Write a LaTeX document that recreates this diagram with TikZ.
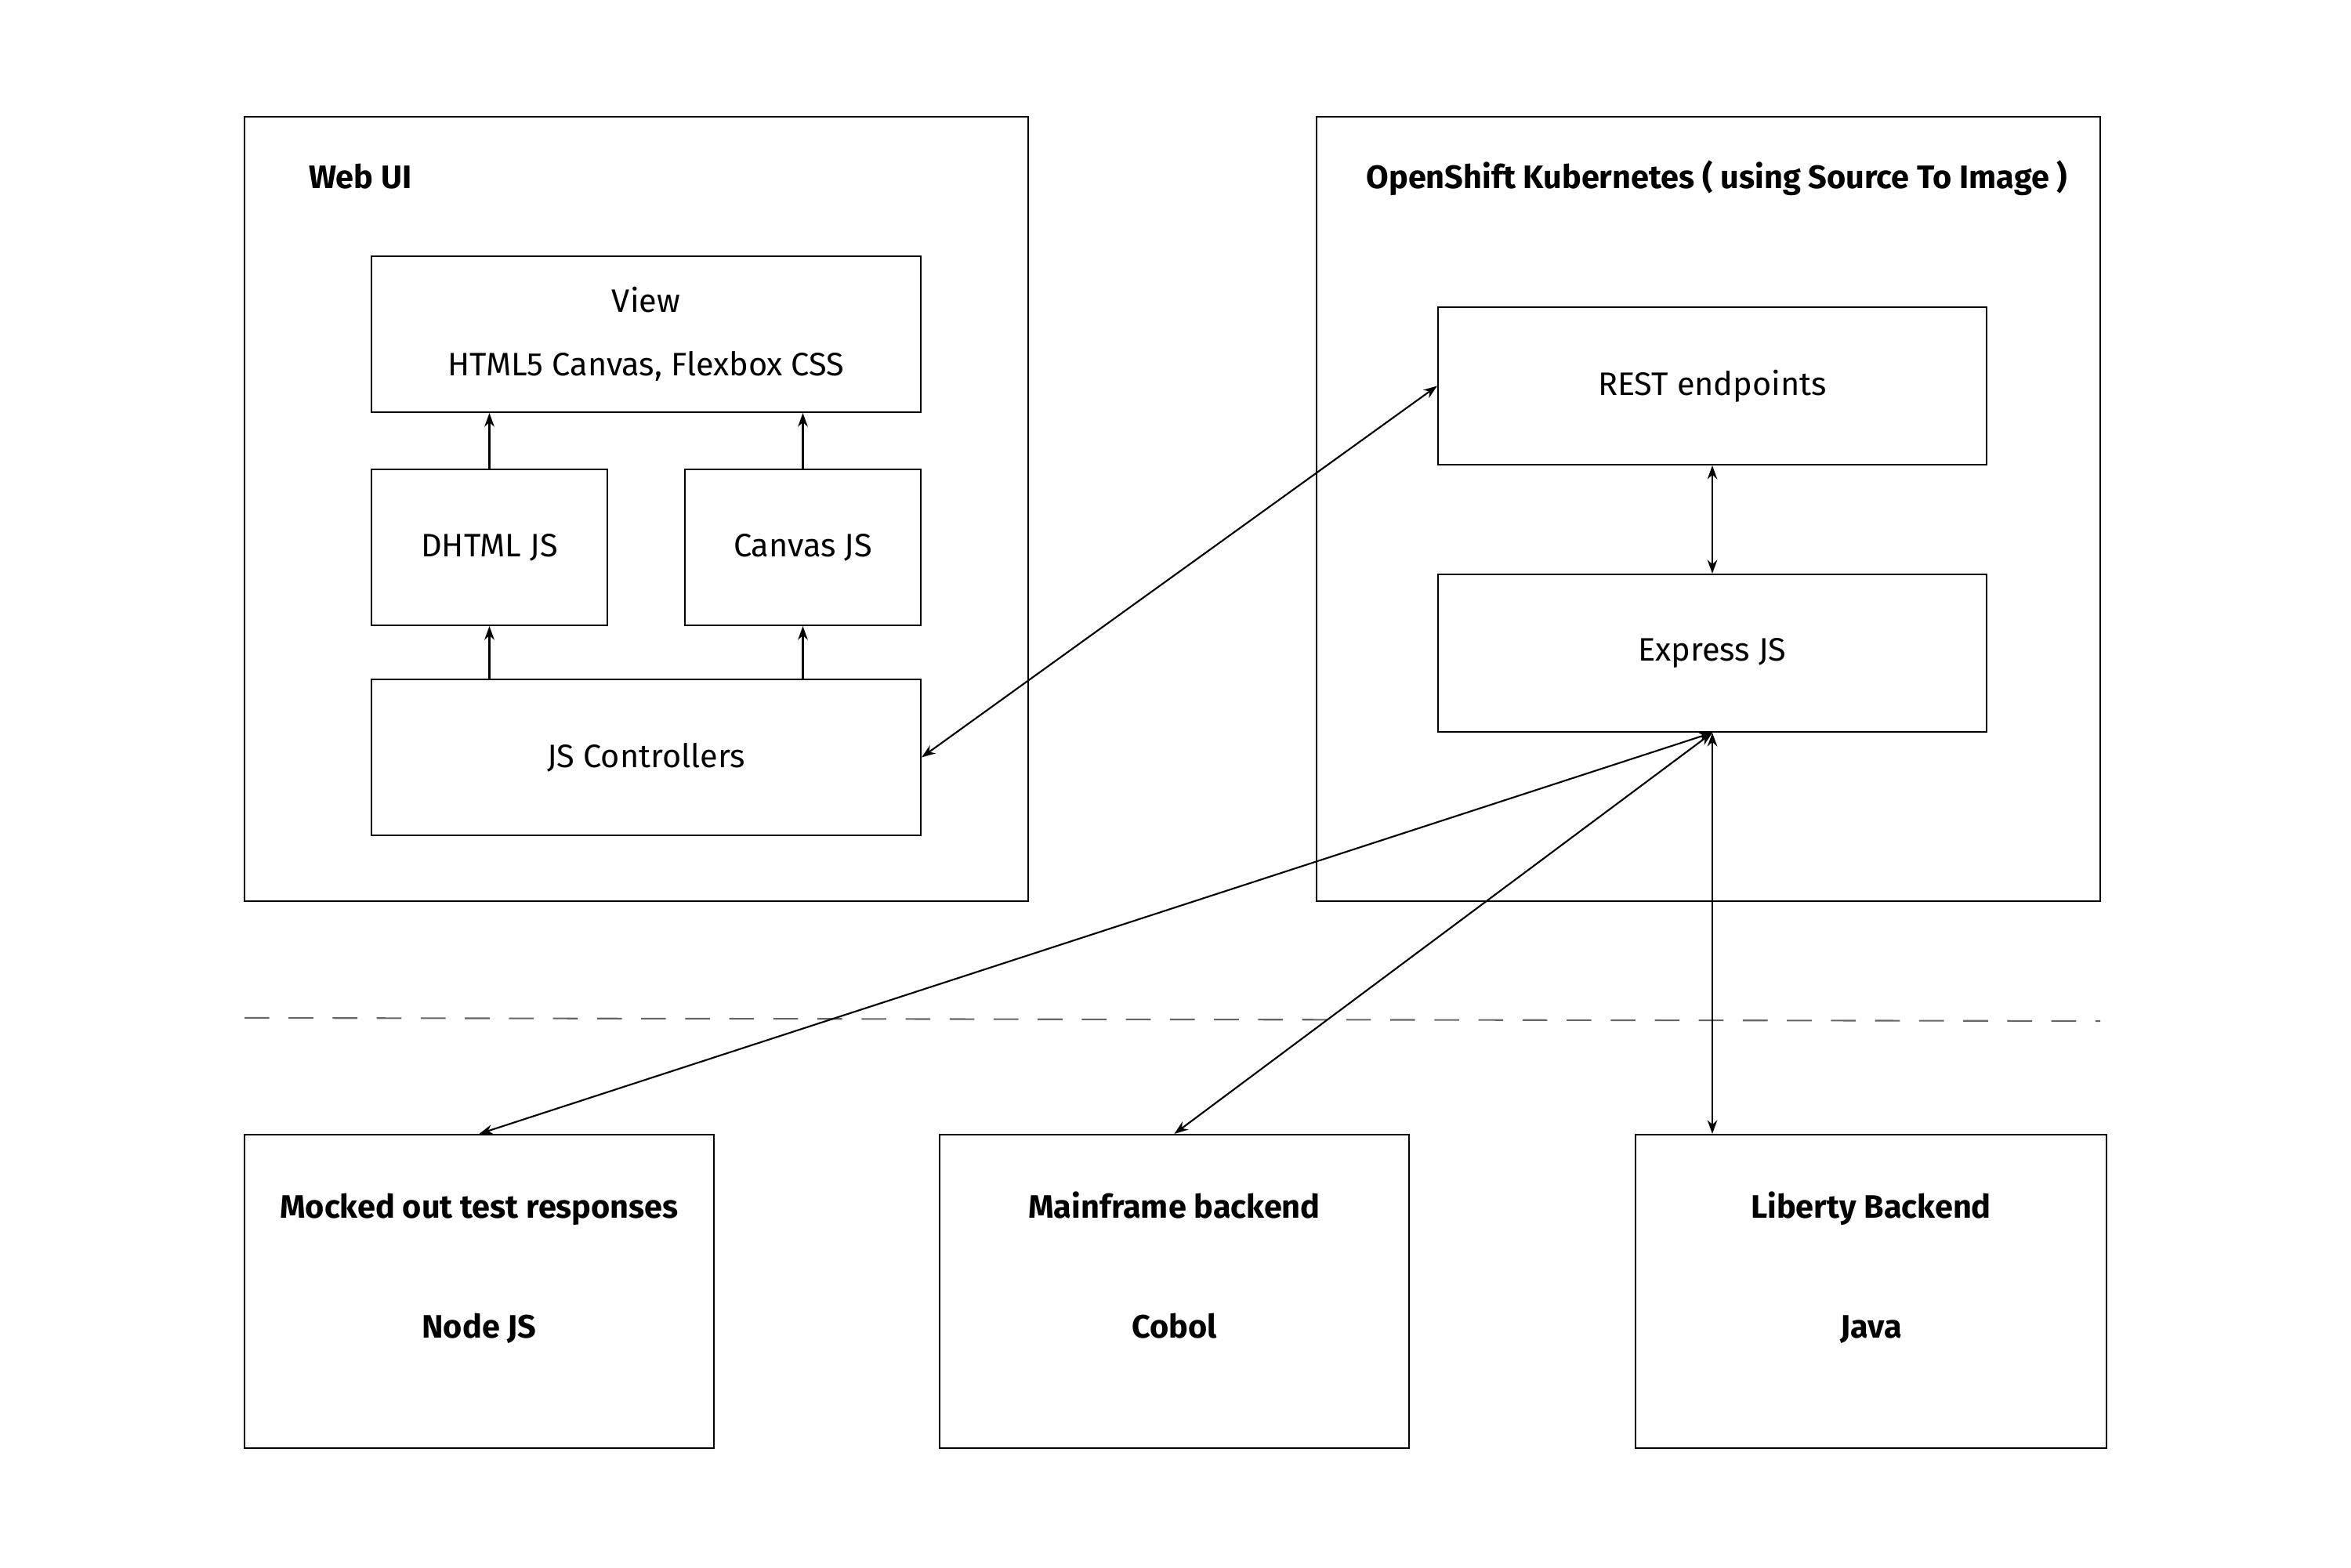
\documentclass[tikz,border=0pt]{standalone}
\usepackage{fontspec}
\setmainfont{Fira Sans}
\usetikzlibrary{positioning,arrows.meta}

\begin{document}
\begin{tikzpicture}[line width=0.6pt,>={Stealth[length=5pt,width=3.6pt]}]
\tikzset{box/.style={draw,rectangle,inner sep=0pt,align=center,font=\fontsize{11.8}{14}\selectfont},
  grp/.style={draw,rectangle,minimum width=10cm,minimum height=10.01cm,inner sep=0pt},
  ttl/.style={font=\fontsize{11.8}{14}\selectfont\bfseries,inner sep=2pt,text height=1.6ex,text depth=0.5ex},
  link/.style={<->}}
\useasboundingbox (0,0) rectangle (30,20);
% outer groups
\node[grp] (webui) at (8.12,13.505) {};
\node[ttl,anchor=west] (webuittl) at (3.86,17.70) {Web UI};
\node[grp] (shift) at (21.80,13.505) {};
\node[ttl] (shiftttl) at (21.91,17.70) {OpenShift Kubernetes ( using Source To Image )};
% web ui parts
\node[box,minimum width=7.01cm,minimum height=1.99cm] (view) at (8.245,15.735) {View\\[9pt]HTML5 Canvas, Flexbox CSS};
\node[box,minimum width=3.01cm,minimum height=1.99cm] (dhtml) at (6.245,13.015) {DHTML JS};
\node[box,minimum width=3.01cm,minimum height=1.99cm] (canvasjs) at (10.245,13.015) {Canvas JS};
\node[box,minimum width=7.01cm,minimum height=1.99cm] (ctrl) at (8.245,10.335) {JS Controllers};
% openshift parts
\node[box,minimum width=7cm,minimum height=2.01cm] (rest) at (21.85,15.075) {REST endpoints};
\node[box,minimum width=7cm,minimum height=2.01cm] (express) at (21.85,11.665) {Express JS};
% backends
\node[box,minimum width=5.99cm,minimum height=4cm] (mock) at (6.115,3.52) {};
\node[box,minimum width=5.99cm,minimum height=4cm] (mainframe) at (14.985,3.52) {};
\node[box,minimum width=6.01cm,minimum height=4cm] (liberty) at (23.875,3.52) {};
\node[ttl,below=0.70cm of mock.north] (mockttl) {Mocked out test responses};
\node[ttl,below=0.70cm of mainframe.north] (mainttl) {Mainframe backend};
\node[ttl,below=0.70cm of liberty.north] (libttl) {Liberty Backend};
\node[ttl,below=0.98cm of mockttl] {Node JS};
\node[ttl,below=0.98cm of mainttl] {Cobol};
\node[ttl,below=0.98cm of libttl] {Java};
% divider
\draw[black!60,dash pattern=on 9pt off 7pt] (3.12,7.01) -- (26.80,6.97);
% arrows
\draw[->] (dhtml.north) -- (view.south -| dhtml.north);
\draw[->] (canvasjs.north) -- (view.south -| canvasjs.north);
\draw[->] (ctrl.north -| dhtml.south) -- (dhtml.south);
\draw[->] (ctrl.north -| canvasjs.south) -- (canvasjs.south);
\draw[link] (ctrl.east) -- (rest.west);
\draw[link] (rest.south) -- (express.north);
\draw[link] (express.south) -- (mock.north);
\draw[link] (express.south) -- (mainframe.north);
\draw[link] (express.south) -- (express.south |- liberty.north);
\end{tikzpicture}
\end{document}
